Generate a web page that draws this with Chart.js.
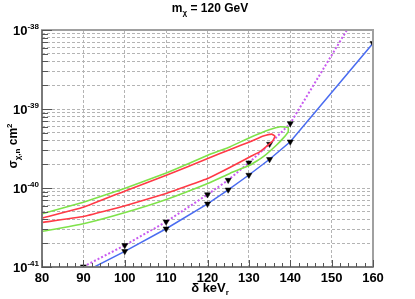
<!DOCTYPE html>
<html><head><meta charset="utf-8">
<script src="https://cdn.jsdelivr.net/npm/chart.js@4"></script>
<style>html,body{margin:0;padding:0;background:#fff;overflow:hidden}</style>
</head><body>
<canvas id="c" width="415" height="299"></canvas>
<script>
// ---- data ----
const xTickValues = [80, 90, 100, 110, 120, 130, 140, 150, 160];
const yDecades = [-41, -40, -39, -38];

const blueX = [90, 100, 110, 120, 125, 130, 135, 140, 160];
const blueY = [8.5e-42, 1.58e-41, 3.05e-41, 6.3e-41, 9.5e-41, 1.46e-40, 2.31e-40, 3.85e-40, 6.8e-39];

const magX = [90, 100, 110, 120, 125, 130, 135, 140, 160];
const magY = [1.01e-41, 1.88e-41, 3.74e-41, 8.26e-41, 1.26e-40, 2.09e-40, 3.6e-40, 6.56e-40, 3.5e-38];

const greenX = [80, 90, 100.1, 110.2, 120.2, 125.5, 130.3, 135.1, 137.6, 139.5, 139.5, 138.3, 136.7, 133.5, 130.3, 125.5, 120.2, 110.2, 100.1, 90, 80];
const greenY = [4.71e-41, 6.6e-41, 9.93e-41, 1.56e-40, 2.61e-40, 3.33e-40, 4.37e-40, 5.51e-40, 5.95e-40, 5.85e-40, 5.14e-40, 4.28e-40, 3.50e-40, 2.49e-40, 1.95e-40, 1.54e-40, 1.15e-40, 7.22e-41, 4.90e-41, 3.53e-41, 2.82e-41];

const redX = [80, 90, 100.1, 110.2, 120.2, 125.5, 130.3, 133.5, 135.5, 136.3, 135.9, 135.1, 132.7, 130.3, 125.5, 120.2, 110.2, 100.1, 90, 80];
const redY = [4.16e-41, 5.7e-41, 9.19e-41, 1.46e-40, 2.38e-40, 3.08e-40, 3.85e-40, 4.54e-40, 4.81e-40, 4.54e-40, 4.04e-40, 3.67e-40, 2.88e-40, 2.49e-40, 1.83e-40, 1.33e-40, 8.60e-41, 5.95e-41, 4.36e-41, 3.66e-41];

const pts = (xs, ys) => xs.map((x, i) => ({x: x, y: ys[i]}));
const FONT = '"Liberation Sans", Arial, Helvetica, sans-serif';

function richWidth(ctx, segs) {
  let w = 0;
  for (const s of segs) { ctx.font = 'bold ' + s.size + 'px ' + FONT; w += ctx.measureText(s.t).width; }
  return w;
}
function drawRich(ctx, segs, x, y, align) {
  const w = richWidth(ctx, segs);
  let cx = align === 'center' ? x - w / 2 : (align === 'right' ? x - w : x);
  ctx.textAlign = 'left';
  ctx.textBaseline = 'alphabetic';
  for (const s of segs) {
    ctx.font = 'bold ' + s.size + 'px ' + FONT;
    ctx.fillText(s.t, cx, y + (s.dy || 0));
    cx += ctx.measureText(s.t).width;
  }
}

const decor = {
  id: 'decor',
  afterDatasetsDraw(chart) {
    const ctx = chart.ctx;
    const a = chart.chartArea;
    const xs = chart.scales.x, ys = chart.scales.y;
    ctx.save();
    // frame
    ctx.strokeStyle = '#a0a0a0';
    ctx.lineWidth = 2;
    ctx.strokeRect(a.left, a.top, a.right - a.left, a.bottom - a.top);
    ctx.strokeStyle = '#7a7a7a';
    ctx.beginPath();
    ctx.moveTo(a.left, a.top); ctx.lineTo(a.left, a.bottom); ctx.lineTo(a.right, a.bottom);
    ctx.stroke();
    // x ticks (inward)
    ctx.strokeStyle = '#555';
    ctx.lineWidth = 1;
    ctx.beginPath();
    for (let v = 80; v <= 160; v += 2) {
      const px = Math.round(xs.getPixelForValue(v)) + 0.5;
      const len = (v % 10 === 0) ? 7 : 4;
      ctx.moveTo(px, a.bottom);
      ctx.lineTo(px, a.bottom - len);
    }
    // y ticks (inward)
    for (const d of yDecades) {
      for (let m = 1; m <= 9; m++) {
        if (d === -38 && m > 1) break;
        const py = Math.round(ys.getPixelForValue(m * Math.pow(10, d))) + 0.5;
        const len = m === 1 ? 10 : 6;
        ctx.moveTo(a.left, py);
        ctx.lineTo(a.left + len, py);
      }
    }
    ctx.stroke();
    ctx.fillStyle = '#000';
    // x tick labels
    ctx.font = 'bold 13px ' + FONT;
    ctx.textAlign = 'center';
    ctx.textBaseline = 'alphabetic';
    for (const v of xTickValues) {
      ctx.fillText(String(v), xs.getPixelForValue(v), a.bottom + 15);
    }
    // y tick labels 10^n
    for (const d of yDecades) {
      const py = ys.getPixelForValue(Math.pow(10, d));
      drawRich(ctx, [{t: '10', size: 13}, {t: String(d), size: 8, dy: -6}], a.left - 3, py + 5, 'right');
    }
    // title
    drawRich(ctx, [{t: 'm', size: 12}, {t: 'χ', size: 8, dy: 3}, {t: ' = 120 GeV', size: 12}], 210, 12, 'center');
    // x axis title
    drawRich(ctx, [{t: 'δ keV', size: 13}, {t: 'r', size: 8, dy: 3}], 210, 292, 'center');
    // y axis title
    ctx.translate(17, 146);
    ctx.rotate(-Math.PI / 2);
    drawRich(ctx, [{t: 'σ', size: 12}, {t: 'χ,n', size: 8, dy: 3}, {t: ' cm', size: 12}, {t: '2', size: 8, dy: -5}], 0, 0, 'center');
    ctx.restore();
  }
};

new Chart(document.getElementById('c'), {
  type: 'scatter',
  data: {
    datasets: [
      {data: pts(greenX, greenY), showLine: true, borderColor: '#7fe24a', borderWidth: 1.6, pointRadius: 0, tension: 0.1, fill: false},
      {data: pts(redX, redY), showLine: true, borderColor: '#ff3a46', borderWidth: 1.6, pointRadius: 0, tension: 0.1, fill: false},
      {data: pts(magX, magY), showLine: true, borderColor: '#c85cf0', borderWidth: 2, borderDash: [2, 2],
       pointStyle: 'triangle', rotation: 180, pointRadius: 3.5, pointBackgroundColor: '#000', pointBorderColor: '#000', pointBorderWidth: 0.5},
      {data: pts(blueX, blueY), showLine: true, borderColor: '#4a6cf0', borderWidth: 1.5,
       pointStyle: 'triangle', rotation: 180, pointRadius: 3.5, pointBackgroundColor: '#000', pointBorderColor: '#000', pointBorderWidth: 0.5}
    ]
  },
  options: {
    responsive: false,
    animation: false,
    events: [],
    layout: {padding: {left: 42, right: 42, top: 30, bottom: 32}},
    plugins: {legend: {display: false}, tooltip: {enabled: false}, title: {display: false}},
    scales: {
      x: {
        type: 'linear', min: 80, max: 160,
        afterBuildTicks: s => { s.ticks = xTickValues.map(v => ({value: v})); },
        ticks: {display: false},
        grid: {color: '#b4b4b4', lineWidth: 1, drawTicks: false},
        border: {display: false, dash: [3, 2]}
      },
      y: {
        type: 'logarithmic', min: 1e-41, max: 1e-38,
        afterBuildTicks: s => {
          const t = [];
          for (const d of yDecades) for (let m = 1; m <= 9; m++) { if (d === -38 && m > 1) break; t.push({value: m * Math.pow(10, d)}); }
          s.ticks = t;
        },
        ticks: {display: false},
        grid: {color: '#b4b4b4', lineWidth: 1, drawTicks: false},
        border: {display: false, dash: [3, 2]}
      }
    }
  },
  plugins: [decor]
});
</script>
</body></html>
